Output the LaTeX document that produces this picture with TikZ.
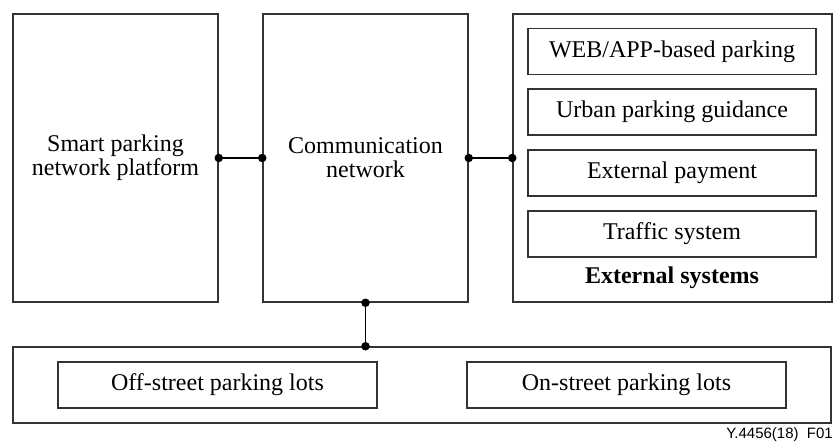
\documentclass[tikz,border=0pt]{standalone}
\usepackage{fontspec}
\setmainfont{Liberation Serif}
\newfontfamily\labelfont{Liberation Sans}
\begin{document}
\begin{tikzpicture}[x=1pt,y=-1pt,
  frame/.style={draw=black!80,line width=1.5pt,rectangle,inner sep=0pt,align=center,
    font=\fontsize{24}{24}\selectfont},
  subbox/.style={frame,minimum width=288pt,minimum height=46pt},
  lotbox/.style={frame,minimum width=319pt,minimum height=46pt},
  wire/.style={draw=black,line width=1.8pt},
  dot/.style={circle,fill=black,inner sep=0pt,minimum size=8.5pt}]
\useasboundingbox (0,0) rectangle (834,444);
\node[frame,minimum width=205pt,minimum height=288pt] (plat) at (115.5,158) {Smart parking\\network platform};
\node[frame,minimum width=205pt,minimum height=288pt] (comm) at (365.5,158) {Communication\\network};
\node[frame,minimum width=319pt,minimum height=288pt] (ext) at (672.5,158) {};
\node[subbox] (web) at (672,51.5) {WEB/APP-based parking};
\node[subbox] (urb) at (672,112) {Urban parking guidance};
\node[subbox] (pay) at (672,173) {External payment};
\node[subbox] (traf) at (672,234) {Traffic system};
\node[font=\fontsize{24}{24}\selectfont\bfseries] (extlbl) at (672,278) {External systems};
\node[frame,minimum width=818pt,minimum height=76pt] (lots) at (422,385) {};
\node[lotbox] (off) at (217.5,385) {Off-street parking lots};
\node[lotbox] (on) at (626.5,385) {On-street parking lots};
\node[font=\labelfont\fontsize{15}{15}\selectfont,anchor=base east,inner sep=0pt] (fig) at (833,438) {Y.4456(18)\ \ F01};
\draw[wire] (plat.east) -- (comm.west);
\draw[wire] (comm.east) -- (ext.west);
\draw[wire] (comm.south) -- (comm.south |- lots.north);
\node[dot] (d1) at (plat.east) {};
\node[dot] (d2) at (comm.west) {};
\node[dot] (d3) at (comm.east) {};
\node[dot] (d4) at (ext.west) {};
\node[dot] (d5) at (comm.south) {};
\node[dot] (d6) at (comm.south |- lots.north) {};
\end{tikzpicture}
\end{document}
